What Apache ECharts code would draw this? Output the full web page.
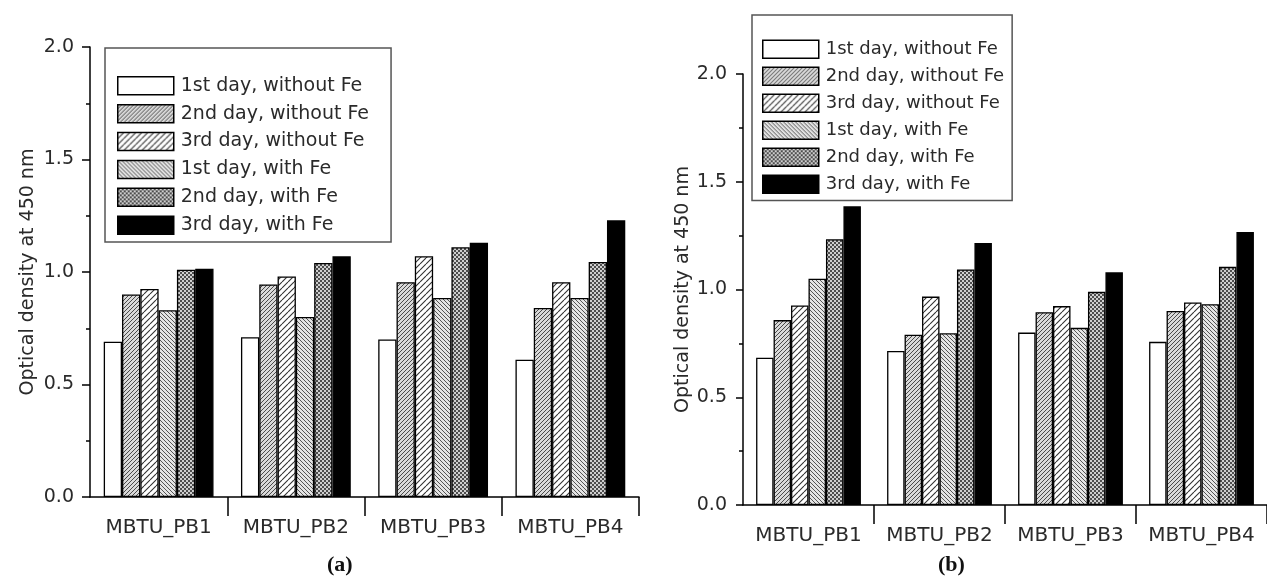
<!DOCTYPE html>
<html>
<head>
<meta charset="utf-8">
<script src="https://cdn.jsdelivr.net/npm/echarts@6/dist/echarts.min.js"></script>
<style>
  html, body { margin: 0; padding: 0; background: #fff; }
  #chart { width: 1267px; height: 582px; }
</style>
</head>
<body>
<div id="chart"></div>
<script>
// ---------- data ----------
const categories = ['MBTU_PB1', 'MBTU_PB2', 'MBTU_PB3', 'MBTU_PB4'];
const seriesNames = [
  '1st day, without Fe', '2nd day, without Fe', '3rd day, without Fe',
  '1st day, with Fe', '2nd day, with Fe', '3rd day, with Fe'
];
const yTicks = [0, 0.5, 1.0, 1.5, 2.0];

// panel (a)
const a_day1_noFe = [0.69, 0.71, 0.70, 0.61];
const a_day2_noFe = [0.90, 0.945, 0.955, 0.84];
const a_day3_noFe = [0.925, 0.98, 1.07, 0.955];
const a_day1_Fe   = [0.83, 0.80, 0.885, 0.885];
const a_day2_Fe   = [1.01, 1.04, 1.11, 1.045];
const a_day3_Fe   = [1.015, 1.07, 1.13, 1.23];

// panel (b)
const b_day1_noFe = [0.683, 0.715, 0.80, 0.757];
const b_day2_noFe = [0.858, 0.79, 0.895, 0.90];
const b_day3_noFe = [0.926, 0.967, 0.923, 0.94];
const b_day1_Fe   = [1.05, 0.797, 0.822, 0.932];
const b_day2_Fe   = [1.233, 1.093, 0.989, 1.105];
const b_day3_Fe   = [1.386, 1.216, 1.08, 1.267];

const panelA = [a_day1_noFe, a_day2_noFe, a_day3_noFe, a_day1_Fe, a_day2_Fe, a_day3_Fe];
const panelB = [b_day1_noFe, b_day2_noFe, b_day3_noFe, b_day1_Fe, b_day2_Fe, b_day3_Fe];

// ---------- fill patterns ----------
function makeHatch(size, dir, color, lw, bg) {
  const c = document.createElement('canvas');
  c.width = size; c.height = size;
  const g = c.getContext('2d');
  g.fillStyle = bg; g.fillRect(0, 0, size, size);
  g.strokeStyle = color; g.lineWidth = lw;
  g.beginPath();
  for (let k = -1; k <= 1; k++) {
    if (dir === '/') { g.moveTo(k * size, size); g.lineTo(k * size + size, 0); }
    else { g.moveTo(k * size, 0); g.lineTo(k * size + size, size); }
  }
  g.stroke();
  return { image: c, repeat: 'repeat' };
}
function makeChecker(size, dark, light) {
  const c = document.createElement('canvas');
  c.width = size; c.height = size;
  const g = c.getContext('2d');
  g.fillStyle = light; g.fillRect(0, 0, size, size);
  g.fillStyle = dark;
  const h = size / 2;
  g.fillRect(0, 0, h, h);
  g.fillRect(h, h, h, h);
  return { image: c, repeat: 'repeat' };
}
const fills = [
  '#ffffff',
  makeHatch(4, '/', '#4a4a4a', 1, '#d9d9d9'),
  makeHatch(6, '/', '#333', 1.1, '#ffffff'),
  makeHatch(4, '\\', '#555', 1, '#e4e4e4'),
  makeChecker(4, '#4d4d4d', '#cfcfcf'),
  '#000000'
];

const FONT = '"DejaVu Sans", sans-serif';
const TXT = '#2a2a2a';

function makeSeries(values, idx) {
  return values.map((d, i) => ({
    type: 'bar',
    name: seriesNames[i],
    xAxisIndex: idx,
    yAxisIndex: idx,
    data: d,
    barGap: '0%',
    barCategoryGap: '20%',
    itemStyle: { color: fills[i], borderColor: '#000', borderWidth: 1.3 },
    emphasis: { disabled: true },
    silent: true
  }));
}

function xAxis(idx) {
  return {
    type: 'category',
    gridIndex: idx,
    data: categories,
    axisLine: { lineStyle: { color: '#000', width: 1.5 } },
    // no separator tick at the left end (where the y axis is)
    axisTick: { show: true, interval: (i) => i !== 0, length: 19, lineStyle: { color: '#000', width: 1.5 } },
    axisLabel: { interval: 0, color: TXT, fontFamily: FONT, fontSize: 20, margin: 21 }
  };
}
function yAxis(idx, tickLen, gap) {
  return {
    type: 'value',
    gridIndex: idx,
    min: yTicks[0],
    max: yTicks[yTicks.length - 1],
    interval: 0.5,
    name: 'Optical density at 450 nm',
    nameLocation: 'middle',
    nameGap: gap,
    nameTextStyle: { color: TXT, fontFamily: FONT, fontSize: 19 },
    axisLine: { show: true, lineStyle: { color: '#000', width: 1.5 } },
    axisTick: { show: true, length: tickLen, lineStyle: { color: '#000', width: 1.5 } },
    minorTick: { show: true, splitNumber: 2, length: 4, lineStyle: { color: '#000', width: 1.5 } },
    splitLine: { show: false },
    axisLabel: { color: TXT, fontFamily: FONT, fontSize: 19, margin: 16,
      formatter: v => v.toFixed(1) }
  };
}
function legend(left, top, fontSize, gap, padding) {
  return {
    orient: 'vertical',
    left: left, top: top,
    data: seriesNames,
    icon: 'rect',
    itemWidth: 56, itemHeight: 18,
    itemGap: gap,
    padding: padding,
    borderColor: '#555', borderWidth: 1.5,
    backgroundColor: '#fff',
    selectedMode: false,
    itemStyle: { borderColor: '#000', borderWidth: 1.5 },
    textStyle: { color: TXT, fontFamily: FONT, fontSize: fontSize, lineHeight: 18, padding: [0, 0, 0, 2] }
  };
}

const chart = echarts.init(document.getElementById('chart'), null, { renderer: 'canvas' });
chart.setOption({
  animation: false,
  backgroundColor: '#fff',
  grid: [
    { left: 90, top: 47, width: 549, bottom: 85 },
    { left: 743, top: 74, width: 525, bottom: 77 }
  ],
  xAxis: [xAxis(0), xAxis(1)],
  yAxis: [yAxis(0, 8, 52), yAxis(1, 7, 50)],
  legend: [
    legend(105, 48, 19, 8.4, [28, 22, 7, 12]),
    legend(752, 15, 18, 7.5, [24.5, 8, 6.5, 10])
  ],
  series: makeSeries(panelA, 0).concat(makeSeries(panelB, 1)),
  graphic: [
    { type: 'text', left: 327, top: 554, style: { text: '(a)', font: 'bold 22px "Liberation Serif", serif', fill: '#111' } },
    { type: 'text', left: 938, top: 554, style: { text: '(b)', font: 'bold 22px "Liberation Serif", serif', fill: '#111' } }
  ]
});
</script>
</body>
</html>
